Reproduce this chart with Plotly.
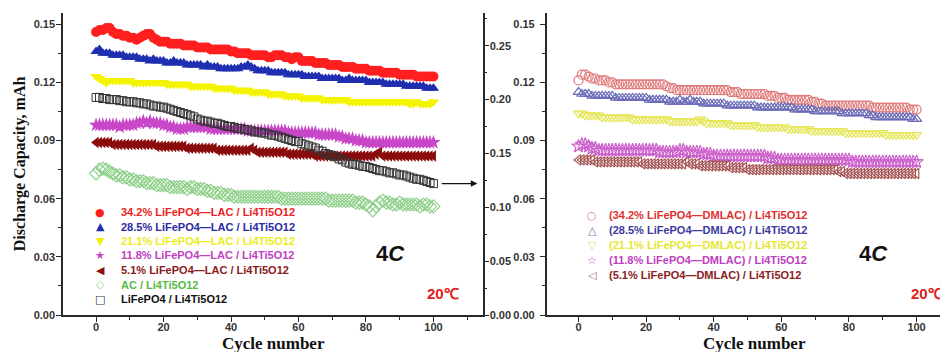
import plotly.graph_objects as go

cycles = list(range(101))

# ---------------- Left panel (LAC cells), left axis, mAh ----------------
lac_342 = [
    0.146, 0.147, 0.147, 0.148, 0.148, 0.146, 0.145, 0.145, 0.144, 0.144, 0.143,
    0.143, 0.142, 0.143, 0.144, 0.145, 0.145, 0.143, 0.142, 0.141, 0.141,
    0.141, 0.140, 0.140, 0.140, 0.140, 0.139, 0.139, 0.139, 0.139, 0.138,
    0.138, 0.138, 0.138, 0.137, 0.137, 0.137, 0.137, 0.137, 0.137, 0.136,
    0.136, 0.135, 0.135, 0.135, 0.135, 0.134, 0.134, 0.134, 0.134, 0.134,
    0.133, 0.133, 0.134, 0.134, 0.134, 0.133, 0.133, 0.132, 0.133, 0.133,
    0.131, 0.131, 0.131, 0.131, 0.130, 0.130, 0.130, 0.130, 0.129, 0.129,
    0.129, 0.129, 0.128, 0.128, 0.128, 0.128, 0.127, 0.127, 0.127, 0.127,
    0.126, 0.126, 0.126, 0.126, 0.125, 0.125, 0.125, 0.125, 0.125, 0.124,
    0.124, 0.124, 0.124, 0.124, 0.123, 0.123, 0.123, 0.123, 0.123, 0.123,
]
lac_285 = [
    0.136, 0.137, 0.135, 0.135, 0.135, 0.134, 0.134, 0.134, 0.134, 0.133, 0.133,
    0.133, 0.133, 0.132, 0.132, 0.132, 0.131, 0.132, 0.131, 0.131, 0.131,
    0.130, 0.130, 0.131, 0.130, 0.130, 0.130, 0.129, 0.129, 0.129, 0.129,
    0.129, 0.128, 0.129, 0.128, 0.128, 0.128, 0.127, 0.127, 0.127, 0.127,
    0.127, 0.127, 0.128, 0.128, 0.129, 0.128, 0.127, 0.126, 0.126, 0.126,
    0.126, 0.125, 0.125, 0.125, 0.125, 0.125, 0.124, 0.124, 0.124, 0.124,
    0.124, 0.123, 0.123, 0.123, 0.123, 0.123, 0.122, 0.122, 0.122, 0.122,
    0.122, 0.122, 0.121, 0.121, 0.122, 0.121, 0.121, 0.121, 0.121, 0.121,
    0.120, 0.120, 0.120, 0.120, 0.120, 0.119, 0.119, 0.119, 0.119, 0.119,
    0.119, 0.118, 0.118, 0.118, 0.118, 0.118, 0.118, 0.117, 0.117, 0.117,
]
lac_211 = [
    0.123, 0.122, 0.121, 0.120, 0.121, 0.121, 0.121, 0.121, 0.121, 0.121, 0.121,
    0.120, 0.120, 0.120, 0.120, 0.120, 0.120, 0.120, 0.120, 0.120, 0.120,
    0.119, 0.119, 0.119, 0.119, 0.119, 0.119, 0.119, 0.118, 0.118, 0.118,
    0.118, 0.118, 0.118, 0.118, 0.117, 0.117, 0.117, 0.117, 0.117, 0.117,
    0.116, 0.116, 0.116, 0.116, 0.116, 0.115, 0.115, 0.115, 0.115, 0.115,
    0.114, 0.114, 0.114, 0.114, 0.114, 0.113, 0.113, 0.113, 0.113, 0.113,
    0.112, 0.112, 0.112, 0.112, 0.112, 0.112, 0.111, 0.111, 0.111, 0.111,
    0.111, 0.111, 0.111, 0.111, 0.110, 0.110, 0.110, 0.110, 0.110, 0.110,
    0.110, 0.110, 0.110, 0.110, 0.110, 0.110, 0.110, 0.110, 0.110, 0.110,
    0.110, 0.110, 0.109, 0.109, 0.110, 0.109, 0.109, 0.109, 0.109, 0.110,
]
lac_118 = [
    0.098, 0.098, 0.098, 0.098, 0.098, 0.098, 0.098, 0.097, 0.098, 0.098, 0.098,
    0.098, 0.099, 0.099, 0.100, 0.099, 0.100, 0.099, 0.099, 0.099, 0.098,
    0.098, 0.097, 0.097, 0.096, 0.096, 0.096, 0.097, 0.097, 0.097, 0.097,
    0.097, 0.097, 0.097, 0.096, 0.096, 0.096, 0.096, 0.096, 0.096, 0.096,
    0.096, 0.096, 0.096, 0.096, 0.095, 0.095, 0.095, 0.095, 0.095, 0.095,
    0.095, 0.095, 0.095, 0.095, 0.095, 0.095, 0.094, 0.094, 0.094, 0.094,
    0.094, 0.094, 0.094, 0.094, 0.094, 0.093, 0.093, 0.093, 0.093, 0.093,
    0.093, 0.092, 0.092, 0.091, 0.091, 0.091, 0.090, 0.090, 0.090, 0.089,
    0.089, 0.089, 0.089, 0.089, 0.089, 0.089, 0.089, 0.089, 0.089, 0.089,
    0.089, 0.089, 0.089, 0.089, 0.089, 0.089, 0.089, 0.089, 0.089, 0.089,
]
lac_51 = [
    0.089, 0.089, 0.089, 0.089, 0.089, 0.088, 0.088, 0.088, 0.088, 0.088, 0.088,
    0.088, 0.088, 0.088, 0.088, 0.088, 0.088, 0.088, 0.087, 0.087, 0.087,
    0.087, 0.087, 0.087, 0.087, 0.087, 0.087, 0.086, 0.086, 0.086, 0.086,
    0.086, 0.086, 0.086, 0.086, 0.086, 0.085, 0.085, 0.085, 0.085, 0.085,
    0.085, 0.085, 0.085, 0.085, 0.085, 0.086, 0.085, 0.084, 0.084, 0.084,
    0.084, 0.084, 0.084, 0.084, 0.084, 0.084, 0.083, 0.083, 0.083, 0.083,
    0.083, 0.083, 0.083, 0.083, 0.082, 0.082, 0.082, 0.082, 0.082, 0.082,
    0.082, 0.082, 0.082, 0.082, 0.082, 0.082, 0.082, 0.082, 0.082, 0.082,
    0.082, 0.082, 0.083, 0.084, 0.082, 0.082, 0.082, 0.082, 0.082, 0.082,
    0.082, 0.082, 0.082, 0.082, 0.082, 0.082, 0.082, 0.082, 0.082, 0.082,
]
ac_only = [
    0.073, 0.075, 0.0755, 0.075, 0.074, 0.073, 0.072, 0.072, 0.071, 0.071, 0.070,
    0.070, 0.069, 0.069, 0.069, 0.068, 0.068, 0.068, 0.067, 0.067, 0.067,
    0.067, 0.066, 0.066, 0.066, 0.066, 0.066, 0.065, 0.066, 0.066, 0.065,
    0.065, 0.065, 0.064, 0.064, 0.063, 0.063, 0.063, 0.062, 0.062, 0.062,
    0.061, 0.061, 0.061, 0.061, 0.061, 0.061, 0.061, 0.061, 0.061, 0.061,
    0.061, 0.061, 0.061, 0.061, 0.060, 0.060, 0.060, 0.060, 0.060, 0.060,
    0.060, 0.060, 0.060, 0.060, 0.060, 0.060, 0.060, 0.060, 0.059, 0.059,
    0.059, 0.059, 0.059, 0.059, 0.059, 0.059, 0.058, 0.058, 0.058, 0.057,
    0.056, 0.054, 0.056, 0.058, 0.059, 0.058, 0.058, 0.057, 0.057, 0.058,
    0.057, 0.057, 0.057, 0.057, 0.057, 0.056, 0.057, 0.057, 0.056, 0.056,
]
# LiFePO4 / Li4Ti5O12 -> right-hand axis of the left panel
lfp_only = [
    0.202, 0.202, 0.201, 0.201, 0.200, 0.200, 0.200, 0.199, 0.199, 0.198, 0.198,
    0.198, 0.197, 0.197, 0.196, 0.196, 0.195, 0.194, 0.194, 0.193, 0.193,
    0.192, 0.191, 0.190, 0.189, 0.188, 0.187, 0.186, 0.185, 0.184, 0.182,
    0.181, 0.180, 0.180, 0.179, 0.178, 0.178, 0.177, 0.176, 0.175, 0.175,
    0.174, 0.173, 0.173, 0.172, 0.172, 0.171, 0.170, 0.170, 0.169, 0.169,
    0.168, 0.167, 0.167, 0.166, 0.165, 0.164, 0.163, 0.162, 0.161, 0.161,
    0.159, 0.158, 0.157, 0.156, 0.155, 0.153, 0.152, 0.150, 0.149, 0.148,
    0.147, 0.145, 0.144, 0.142, 0.141, 0.140, 0.140, 0.139, 0.138, 0.138,
    0.137, 0.136, 0.135, 0.134, 0.134, 0.133, 0.132, 0.132, 0.131, 0.130,
    0.130, 0.129, 0.128, 0.127, 0.126, 0.126, 0.125, 0.124, 0.123, 0.122,
]

# ---------------- Right panel (DMLAC cells) ----------------
dm_342 = [
    0.121, 0.124, 0.124, 0.123, 0.122, 0.122, 0.121, 0.121, 0.121, 0.120, 0.120,
    0.119, 0.119, 0.119, 0.119, 0.119, 0.119, 0.119, 0.119, 0.119, 0.119,
    0.119, 0.119, 0.119, 0.119, 0.119, 0.118, 0.117, 0.117, 0.116, 0.116,
    0.116, 0.116, 0.116, 0.116, 0.116, 0.116, 0.116, 0.116, 0.116, 0.116,
    0.116, 0.116, 0.116, 0.116, 0.115, 0.115, 0.115, 0.114, 0.114, 0.114,
    0.114, 0.114, 0.114, 0.114, 0.114, 0.113, 0.113, 0.113, 0.112, 0.112,
    0.112, 0.111, 0.111, 0.111, 0.111, 0.111, 0.111, 0.111, 0.110, 0.110,
    0.109, 0.109, 0.108, 0.108, 0.108, 0.108, 0.108, 0.108, 0.108, 0.108,
    0.108, 0.108, 0.108, 0.108, 0.108, 0.108, 0.107, 0.107, 0.107, 0.107,
    0.107, 0.107, 0.107, 0.107, 0.107, 0.107, 0.107, 0.106, 0.106, 0.106,
]
dm_285 = [
    0.115, 0.114, 0.114, 0.114, 0.113, 0.113, 0.113, 0.113, 0.113, 0.113, 0.113,
    0.112, 0.112, 0.112, 0.112, 0.112, 0.112, 0.112, 0.112, 0.112, 0.112,
    0.111, 0.111, 0.111, 0.111, 0.111, 0.111, 0.110, 0.110, 0.110, 0.111,
    0.110, 0.110, 0.111, 0.110, 0.110, 0.110, 0.109, 0.109, 0.109, 0.109,
    0.109, 0.109, 0.109, 0.108, 0.108, 0.108, 0.108, 0.108, 0.108, 0.108,
    0.108, 0.108, 0.107, 0.107, 0.107, 0.107, 0.107, 0.107, 0.107, 0.107,
    0.107, 0.107, 0.107, 0.106, 0.106, 0.106, 0.106, 0.106, 0.106, 0.105,
    0.105, 0.105, 0.105, 0.105, 0.105, 0.105, 0.105, 0.104, 0.104, 0.104,
    0.104, 0.104, 0.104, 0.104, 0.104, 0.103, 0.103, 0.102, 0.102, 0.102,
    0.102, 0.102, 0.102, 0.102, 0.102, 0.102, 0.102, 0.102, 0.101, 0.101,
]
dm_211 = [
    0.104, 0.104, 0.103, 0.103, 0.103, 0.103, 0.103, 0.102, 0.102, 0.102, 0.102,
    0.102, 0.102, 0.102, 0.102, 0.102, 0.101, 0.101, 0.101, 0.101, 0.101,
    0.101, 0.101, 0.101, 0.101, 0.101, 0.101, 0.100, 0.100, 0.100, 0.100,
    0.100, 0.100, 0.100, 0.100, 0.100, 0.101, 0.100, 0.099, 0.099, 0.099,
    0.099, 0.099, 0.099, 0.099, 0.098, 0.098, 0.098, 0.098, 0.098, 0.098,
    0.098, 0.098, 0.097, 0.097, 0.097, 0.097, 0.097, 0.097, 0.097, 0.097,
    0.097, 0.096, 0.096, 0.096, 0.096, 0.096, 0.096, 0.096, 0.095, 0.095,
    0.095, 0.095, 0.095, 0.095, 0.095, 0.095, 0.095, 0.095, 0.094, 0.094,
    0.094, 0.094, 0.094, 0.094, 0.094, 0.094, 0.094, 0.094, 0.094, 0.094,
    0.093, 0.093, 0.093, 0.093, 0.093, 0.093, 0.093, 0.093, 0.093, 0.093,
]
dm_118 = [
    0.087, 0.088, 0.088, 0.087, 0.086, 0.086, 0.085, 0.085, 0.085, 0.085, 0.085,
    0.085, 0.085, 0.085, 0.085, 0.085, 0.085, 0.085, 0.085, 0.085, 0.085,
    0.085, 0.085, 0.085, 0.084, 0.084, 0.084, 0.084, 0.084, 0.084, 0.085,
    0.085, 0.084, 0.084, 0.084, 0.084, 0.084, 0.083, 0.083, 0.083, 0.082,
    0.082, 0.082, 0.082, 0.082, 0.082, 0.082, 0.082, 0.082, 0.082, 0.082,
    0.082, 0.082, 0.082, 0.082, 0.082, 0.081, 0.081, 0.081, 0.080, 0.080,
    0.080, 0.080, 0.080, 0.080, 0.080, 0.080, 0.080, 0.080, 0.080, 0.080,
    0.080, 0.080, 0.080, 0.080, 0.080, 0.080, 0.080, 0.080, 0.080, 0.080,
    0.079, 0.079, 0.079, 0.079, 0.079, 0.079, 0.079, 0.079, 0.079, 0.079,
    0.079, 0.079, 0.079, 0.079, 0.079, 0.079, 0.079, 0.079, 0.079, 0.079,
]
dm_51 = [
    0.080, 0.080, 0.080, 0.080, 0.080, 0.079, 0.079, 0.079, 0.079, 0.079, 0.079,
    0.079, 0.079, 0.079, 0.079, 0.079, 0.079, 0.079, 0.079, 0.078, 0.078,
    0.078, 0.078, 0.078, 0.078, 0.078, 0.078, 0.078, 0.078, 0.078, 0.078,
    0.078, 0.079, 0.078, 0.078, 0.078, 0.077, 0.077, 0.077, 0.077, 0.077,
    0.077, 0.077, 0.077, 0.077, 0.076, 0.076, 0.076, 0.076, 0.076, 0.075,
    0.075, 0.075, 0.075, 0.075, 0.075, 0.075, 0.075, 0.075, 0.075, 0.075,
    0.075, 0.075, 0.075, 0.075, 0.075, 0.075, 0.075, 0.075, 0.075, 0.075,
    0.075, 0.075, 0.075, 0.075, 0.075, 0.075, 0.074, 0.074, 0.073, 0.073,
    0.073, 0.073, 0.073, 0.073, 0.073, 0.073, 0.073, 0.073, 0.073, 0.073,
    0.073, 0.073, 0.073, 0.073, 0.073, 0.073, 0.073, 0.073, 0.073, 0.073,
]

left_names = [
    "34.2% LiFePO4\u2014LAC / Li4Ti5O12",
    "28.5% LiFePO4\u2014LAC / Li4Ti5O12",
    "21.1% LiFePO4\u2014LAC / Li4Ti5O12",
    "11.8% LiFePO4\u2014LAC / Li4Ti5O12",
    "5.1% LiFePO4\u2014LAC / Li4Ti5O12",
    "AC / Li4Ti5O12",
    "LiFePO4 / Li4Ti5O12",
]
right_names = [
    "(34.2% LiFePO4\u2014DMLAC) / Li4Ti5O12",
    "(28.5% LiFePO4\u2014DMLAC) / Li4Ti5O12",
    "(21.1% LiFePO4\u2014DMLAC) / Li4Ti5O12",
    "(11.8% LiFePO4\u2014DMLAC) / Li4Ti5O12",
    "(5.1% LiFePO4\u2014DMLAC) / Li4Ti5O12",
]

# The page body has an 8 px margin; the figure is sized to fill the rest of the window.
OFF = 8
W, H = 948 - OFF, 352 - OFF


def px(sx):
    return (sx - OFF) / W


def py(sy):
    return 1 - (sy - OFF) / H


AX = "#2a2a2a"
TICKFONT = dict(family="Liberation Sans, Arial", size=11, color="#333333", weight="bold")
TITLEFONT = dict(family="Liberation Serif, Times New Roman", size=17, color="#111111", weight="bold")

fig = go.Figure()

left_series = [lac_342, lac_285, lac_211, lac_118, lac_51, ac_only]
left_marker = [
    dict(symbol="circle", color="#ff1f1f", size=10),
    dict(symbol="triangle-up", color="#1f2fb0", size=10),
    dict(symbol="triangle-down", color="#f4f400", size=10),
    dict(symbol="star", color="#c846c8", size=11),
    dict(symbol="triangle-left", color="#8a0c0c", size=10),
    dict(symbol="diamond-open", color="#8fd08a", size=10, line=dict(width=1.2)),
]
for name, ys, mk in zip(left_names[:6], left_series, left_marker):
    fig.add_trace(go.Scatter(x=cycles, y=ys, name=name, mode="markers",
                             marker=mk, xaxis="x", yaxis="y"))
fig.add_trace(go.Scatter(x=cycles, y=lfp_only, name=left_names[6], mode="markers",
                         marker=dict(symbol="square-open", color="#333333", size=8,
                                     line=dict(width=1)),
                         xaxis="x", yaxis="y2"))

right_series = [dm_342, dm_285, dm_211, dm_118, dm_51]
right_marker = [
    dict(symbol="circle-open", color="#e07a7a", size=9, line=dict(width=1.2)),
    dict(symbol="triangle-up-open", color="#6a6ab8", size=9, line=dict(width=1.2)),
    dict(symbol="triangle-down-open", color="#e6e65a", size=9, line=dict(width=1.2)),
    dict(symbol="star-open", color="#cc62cc", size=10, line=dict(width=1.2)),
    dict(symbol="triangle-left-open", color="#a65656", size=9, line=dict(width=1.2)),
]
for name, ys, mk in zip(right_names, right_series, right_marker):
    fig.add_trace(go.Scatter(x=cycles, y=ys, name=name, mode="markers",
                             marker=mk, xaxis="x2", yaxis="y3"))

ydom = [py(315), py(13)]


def xa(domain, rng, anchor):
    return dict(domain=domain, range=rng, anchor=anchor, showline=True, linecolor=AX,
                linewidth=1.5, ticks="outside", ticklen=5, tickwidth=1.2, tickcolor=AX,
                tickvals=[0, 20, 40, 60, 80, 100], tickfont=TICKFONT, ticklabelstandoff=-4,
                minor=dict(ticks="outside", ticklen=3, dtick=10, tick0=0, tickcolor=AX, tickwidth=1.2),
                showgrid=False, zeroline=False, automargin=False)


def ya(rng, dtick, anchor, side="left", overlay=None, title=None, standoff=0):
    d = dict(domain=ydom, range=rng, anchor=anchor, side=side, showline=True, linecolor=AX,
             linewidth=1.5, ticks="outside", ticklen=5, tickwidth=1.2, tickcolor=AX,
             dtick=dtick, tick0=0, tickformat=".2f", tickfont=TICKFONT,
             ticklabelstandoff=standoff,
             minor=dict(ticks="outside", ticklen=3, dtick=dtick / 2, tickcolor=AX, tickwidth=1.2),
             showgrid=False, zeroline=False, automargin=False)
    if overlay:
        d["overlaying"] = overlay
    if title:
        d["title"] = dict(text=title, font=dict(TITLEFONT, size=16), standoff=4)
    return d


fig.update_layout(
    width=W, height=H, template="none", showlegend=False,
    margin=dict(l=0, r=0, t=0, b=0),
    paper_bgcolor="white", plot_bgcolor="rgba(0,0,0,0)",
    xaxis=xa([px(63), px(482.7)], [-9.8, 114.6], "y"),
    xaxis2=xa([px(546.7), 1.0], [-9.4, 109.3], "y3"),
    yaxis=ya([0, 0.1558], 0.03, "x", title="Discharge Capacity, mAh", standoff=-1),
    yaxis2=ya([0, 0.2804], 0.05, "x", side="right", overlay="y", standoff=-2),
    yaxis3=ya([0, 0.1558], 0.03, "x2", standoff=3),
)

# Legends drawn as text rows
left_glyphs = ["\u25CF", "\u25B2", "\u25BC", "\u2605", "\u25C0", "\u25C7", "\u25A1"]
left_glyph_colors = ["#ff1f1f", "#1f2fb0", "#f0f000", "#c846c8", "#8a0c0c", "#8fd08a", "#333333"]
left_text_colors = ["#e82424", "#2a2aa6", "#ecec20", "#c040c0", "#8b1a1a", "#55bb44", "#111111"]
right_glyphs = ["\u25CB", "\u25B3", "\u25BD", "\u2606", "\u25C1"]
right_glyph_colors = ["#d88080", "#7070b4", "#e0e070", "#d070d0", "#a07070"]
right_text_colors = ["#e03030", "#3a3aa0", "#e6e630", "#c040c0", "#8b2020"]

ann = []
for i, (g, gc, t, tc) in enumerate(zip(left_glyphs, left_glyph_colors, left_names, left_text_colors)):
    yy = py(212 + 14.5 * i)
    ann.append(dict(x=px(100), y=yy, xref="paper", yref="paper", text=g, showarrow=False,
                    xanchor="center", yanchor="middle",
                    font=dict(family="DejaVu Sans", size=11, color=gc)))
    ann.append(dict(x=px(119), y=yy, xref="paper", yref="paper", text=t, showarrow=False,
                    xanchor="left", yanchor="middle",
                    font=dict(family="Liberation Sans, Arial", size=11, color=tc, weight="bold")))
for i, (g, gc, t, tc) in enumerate(zip(right_glyphs, right_glyph_colors, right_names, right_text_colors)):
    yy = py(215 + 15 * i)
    ann.append(dict(x=px(592), y=yy, xref="paper", yref="paper", text=g, showarrow=False,
                    xanchor="center", yanchor="middle",
                    font=dict(family="DejaVu Sans", size=11, color=gc)))
    ann.append(dict(x=px(607), y=yy, xref="paper", yref="paper", text=t, showarrow=False,
                    xanchor="left", yanchor="middle",
                    font=dict(family="Liberation Sans, Arial", size=11, color=tc, weight="bold")))

# x-axis titles
for xc in (273, 754):
    ann.append(dict(x=px(xc), y=py(343), xref="paper", yref="paper", text="Cycle number",
                    showarrow=False, xanchor="center", yanchor="middle", font=TITLEFONT))

for xc in (390, 873):
    ann.append(dict(x=px(xc), y=py(253), xref="paper", yref="paper", text="4<i>C</i>",
                    showarrow=False, xanchor="center", yanchor="middle",
                    font=dict(family="Liberation Sans, Arial", size=22, color="#111111", weight="bold")))
for xc in (443, 927):
    ann.append(dict(x=px(xc), y=py(293), xref="paper", yref="paper", text="20\u2103",
                    showarrow=False, xanchor="center", yanchor="middle",
                    font=dict(family="Liberation Sans, Arial", size=15, color="#e02020", weight="bold")))

# arrow pointing from the LiFePO4 curve to its right-hand axis
ann.append(dict(x=113, y=lfp_only[-1], xref="x", yref="y2", ax=102, ay=lfp_only[-1],
                axref="x", ayref="y2", text="", showarrow=True, arrowhead=2, arrowsize=1,
                arrowwidth=1.3, arrowcolor="#111111"))

fig.update_layout(annotations=ann)
fig.write_html("out.html")
